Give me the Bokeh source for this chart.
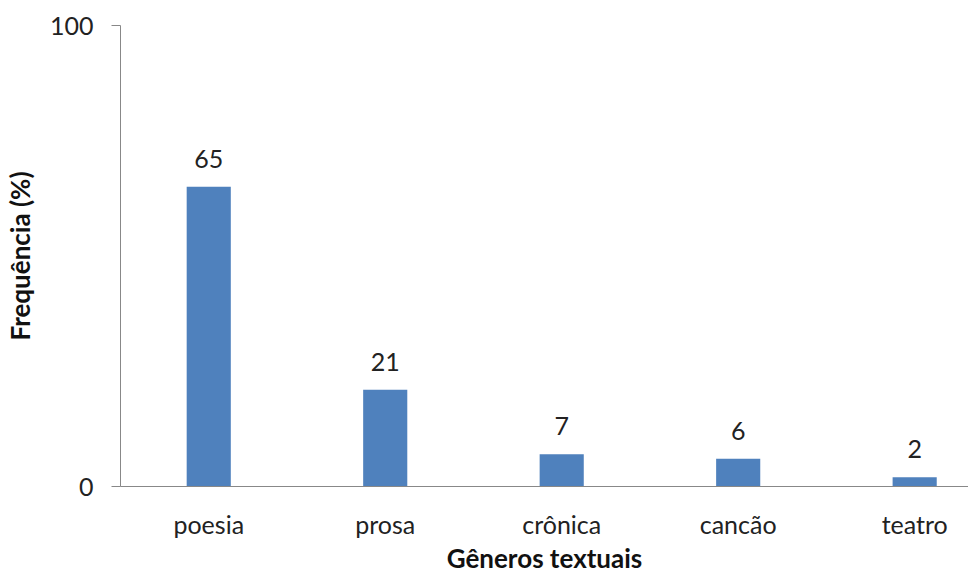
from bokeh.plotting import figure
from bokeh.models import ColumnDataSource, Range1d, FixedTicker, LabelSet
from bokeh.core.properties import value
from bokeh.embed import file_html
from bokeh.resources import INLINE

categories = ["poesia", "prosa", "crônica", "cancão", "teatro"]
values = [65, 21, 7, 6, 2]
y_ticks = [0, 100]

FONT = "Lato"
idx = list(range(len(categories)))
src = ColumnDataSource(dict(x=idx, top=values, lab=[str(v) for v in values]))

p = figure(width=968, height=577, output_backend="svg", toolbar_location=None,
           x_range=Range1d(-0.5, 4.305), y_range=Range1d(0, 100),
           min_border_left=120, min_border_right=0, min_border_top=25, min_border_bottom=91)
p.outline_line_color = None
p.xgrid.visible = False
p.ygrid.visible = False
p.background_fill_color = "white"
p.border_fill_color = "white"

p.vbar(x="x", top="top", width=0.25, bottom=0, source=src, fill_color="#4F81BD", line_color=None)

labels = LabelSet(x="x", y="top", text="lab", source=src, y_offset=28, text_align="center",
                  text_baseline="middle", text_font=value(FONT), text_font_size="25px",
                  text_color="#222222")
p.add_layout(labels)

ax = p.xaxis[0]
ax.ticker = FixedTicker(ticks=idx)
ax.major_label_overrides = {i: c for i, c in zip(idx, categories)}
ax.major_tick_line_color = None
ax.minor_tick_line_color = None
ax.axis_line_color = "#888888"
ax.major_label_text_font = FONT
ax.major_label_text_font_size = "25px"
ax.major_label_text_color = "#222222"
ax.major_label_standoff = 16
ax.axis_label = "Gêneros textuais"
ax.axis_label_text_font = FONT
ax.axis_label_text_font_style = "bold"
ax.axis_label_text_font_size = "26px"
ax.axis_label_text_color = "#111111"
ax.axis_label_standoff = 0

ay = p.yaxis[0]
ay.ticker = FixedTicker(ticks=y_ticks)
ay.minor_tick_line_color = None
ay.axis_line_color = "#888888"
ay.major_tick_line_color = "#888888"
ay.major_tick_out = 9
ay.major_tick_in = 0
ay.major_label_text_font = FONT
ay.major_label_text_font_size = "25px"
ay.major_label_text_color = "#222222"
ay.major_label_standoff = 18
ay.axis_label = "Frequência (%)"
ay.axis_label_text_font = FONT
ay.axis_label_text_font_style = "bold"
ay.axis_label_text_font_size = "26px"
ay.axis_label_text_color = "#111111"
ay.axis_label_standoff = 11

open("out.html", "w").write(file_html(p, INLINE))
